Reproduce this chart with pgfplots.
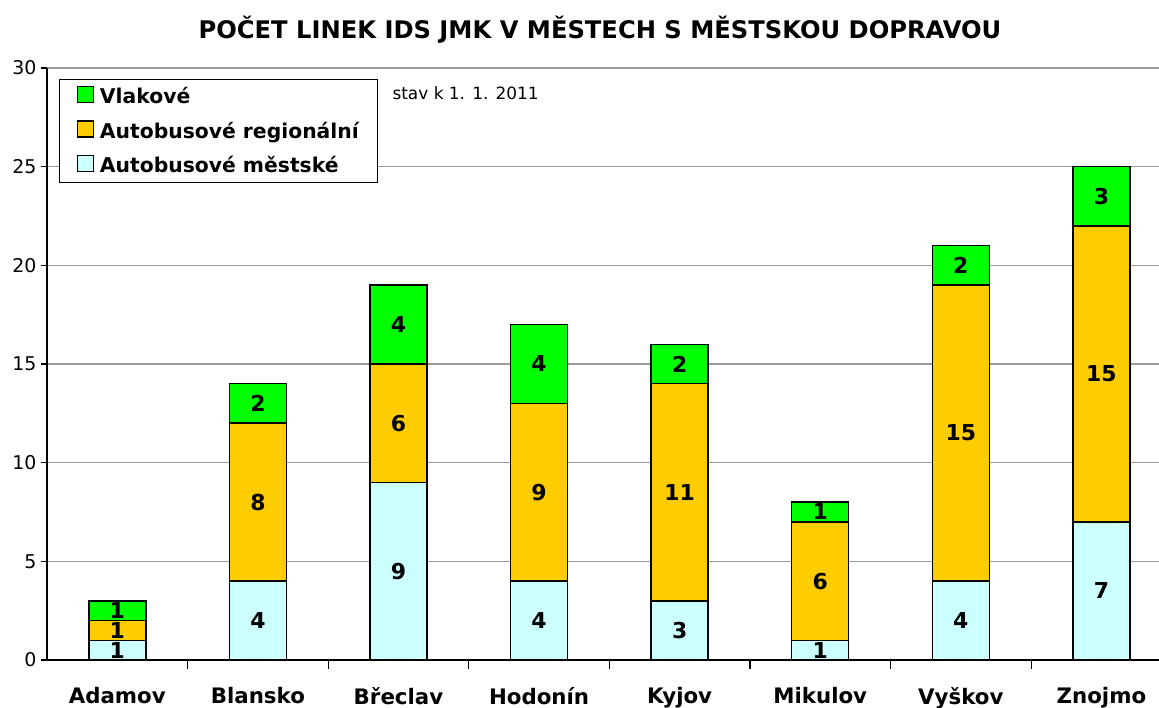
\documentclass[border=0pt]{standalone}
\usepackage{fontspec}
\setmainfont{DejaVu Sans}
\usepackage{pgfplots}
\pgfplotsset{compat=1.18}
\definecolor{cVlak}{HTML}{00FF00}
\definecolor{cReg}{HTML}{FFCC00}
\definecolor{cMest}{HTML}{CCFFFF}
\pgfplotsset{
  sq/.style={draw=black, line width=1.5bp, fill=#1,
    legend image code/.code={\draw[fill=#1, draw=black, line width=1.3bp] (0bp,-6bp) rectangle (16bp,10bp);}},
  frame/.style={at={(47bp,48bp)}, anchor=south west,
    scale only axis, width=1112bp, height=592bp,
    xmin=-0.5, xmax=7.41, ymin=0, ymax=30},
}
\newcommand{\seg}[3]{\node[font=\bfseries\fontsize{22}{22}\selectfont] at (axis cs:#1,#2) {#3};}

\begin{document}
\begin{tikzpicture}[x=1bp,y=1bp]
\useasboundingbox (0,0) rectangle (1159,708);
\begin{axis}[
  frame,
  ybar stacked, bar width=57bp,
  axis lines*=left, axis line style={line width=1.2bp},
  ytick={0,5,...,30},
  xtick={0,...,7},
  xticklabels={Adamov,Blansko,Břeclav,Hodonín,Kyjov,Mikulov,Vyškov,Znojmo},
  major x tick style={draw=none},
  extra x ticks={0.5,1.5,...,6.5}, extra x tick labels={},
  extra x tick style={major tick length=9bp, tick align=outside, grid=none,
    major x tick style={draw=black, line width=1.2bp}},
  tick align=outside, major tick length=6bp,
  y tick style={line width=1.2bp, black},
  ymajorgrids, grid style={gray!80, line width=1.2bp},
  /pgf/number format/assume math mode=true,
  y tick label style={font=\fontsize{19}{19}\selectfont, xshift=-1bp},
  x tick label style={font=\bfseries\fontsize{21.4}{21.4}\selectfont, yshift=-18bp},
  reverse legend,
  legend style={at={(axis description cs:0.0108,0.981)}, anchor=north west,
    draw=black, line width=1.2bp, fill=white,
    font=\bfseries\fontsize{20.4}{20.4}\selectfont,
    inner xsep=17bp, inner ysep=6bp, row sep=13bp,
    cells={anchor=west, text height=16bp, text depth=5bp, inner ysep=0bp},
    /tikz/every odd column/.append style={column sep=4bp}},
  clip=false,
]
\addplot[sq=cMest] coordinates {(0,1) (1,4) (2,9) (3,4) (4,3) (5,1) (6,4) (7,7)};
\addlegendentry{Autobusové městské}
\addplot[sq=cReg] coordinates {(0,1) (1,8) (2,6) (3,9) (4,11) (5,6) (6,15) (7,15)};
\addlegendentry{Autobusové regionální}
\addplot[sq=cVlak] coordinates {(0,1) (1,2) (2,4) (3,4) (4,2) (5,1) (6,2) (7,3)};
\addlegendentry{Vlakové}
\end{axis}
\begin{axis}[frame, hide axis, clip=false]
\seg{0}{0.5}{1}\seg{0}{1.5}{1}\seg{0}{2.5}{1}
\seg{1}{2}{4}\seg{1}{8}{8}\seg{1}{13}{2}
\seg{2}{4.5}{9}\seg{2}{12}{6}\seg{2}{17}{4}
\seg{3}{2}{4}\seg{3}{8.5}{9}\seg{3}{15}{4}
\seg{4}{1.5}{3}\seg{4}{8.5}{11}\seg{4}{15}{2}
\seg{5}{0.5}{1}\seg{5}{4}{6}\seg{5}{7.5}{1}
\seg{6}{2}{4}\seg{6}{11.5}{15}\seg{6}{20}{2}
\seg{7}{3.5}{7}\seg{7}{14.5}{15}\seg{7}{23.5}{3}
\end{axis}
\node[font=\bfseries\fontsize{24.3}{24.3}\selectfont] at (600,678) {POČET LINEK IDS JMK V MĚSTECH S MĚSTSKOU DOPRAVOU};
\node[anchor=west, font=\fontsize{17}{17}\selectfont] at (389,615) {stav k 1. 1. 2011};
\end{tikzpicture}
\end{document}
